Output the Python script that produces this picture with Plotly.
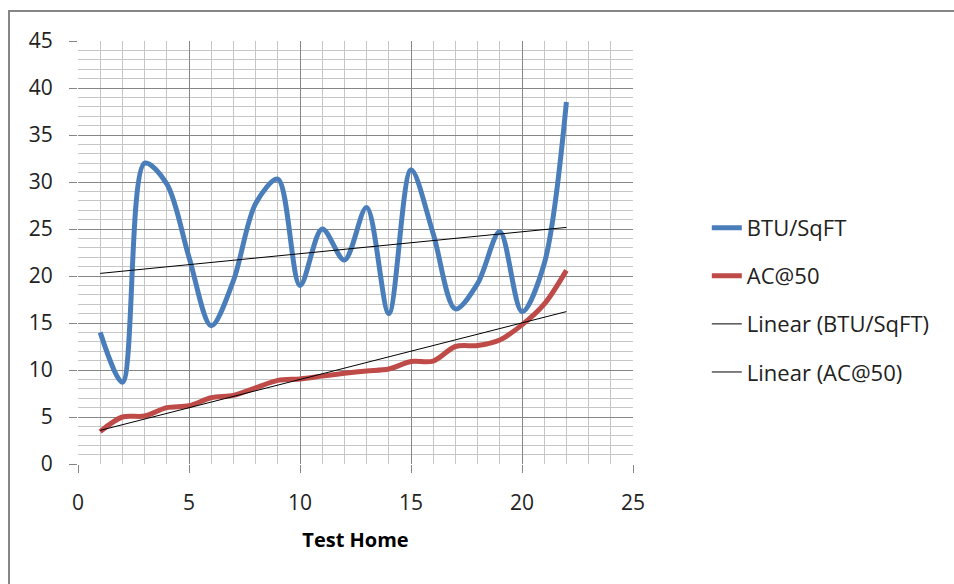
import numpy as np
import plotly.graph_objects as go

homes = list(range(1, 23))
btu = [14.0, 8.7, 32.0, 29.8, 22.0, 14.7, 19.5, 27.7, 30.3, 19.0, 25.0,
       21.7, 27.3, 16.0, 31.3, 24.5, 16.5, 19.2, 24.7, 16.2, 21.3, 38.5]
ac50 = [3.45, 5.0, 5.1, 6.0, 6.2, 7.05, 7.3, 8.1, 8.9, 9.05, 9.35,
        9.65, 9.9, 10.1, 10.9, 10.95, 12.5, 12.6, 13.2, 14.8, 17.0, 20.6]

x_ticks = [0, 5, 10, 15, 20, 25]
y_ticks = [0, 5, 10, 15, 20, 25, 30, 35, 40, 45]

FONT = "Open Sans"
BLUE = "#4a7ebb"
RED = "#be4b48"
MAJOR = "#868686"
MINOR = "#c6c6c6"

x = np.array(homes, dtype=float)
b_fit = np.polyfit(x, np.array(btu), 1)
a_fit = np.polyfit(x, np.array(ac50), 1)
trend_x = [homes[0], homes[-1]]

fig = go.Figure()
fig.add_trace(go.Scatter(x=homes, y=btu, mode="lines", name="BTU/SqFT",
                         line=dict(color=BLUE, width=5, shape="spline", smoothing=0.9),
                         legendgroup="a"))
fig.add_trace(go.Scatter(x=homes, y=ac50, mode="lines", name="AC@50",
                         line=dict(color=RED, width=5, shape="spline", smoothing=0.9),
                         legendgroup="b"))
fig.add_trace(go.Scatter(x=trend_x, y=list(np.polyval(b_fit, trend_x)), mode="lines",
                         name="Linear (BTU/SqFT)", line=dict(color="#000000", width=1),
                         legendgroup="c"))
fig.add_trace(go.Scatter(x=trend_x, y=list(np.polyval(a_fit, trend_x)), mode="lines",
                         name="Linear (AC@50)", line=dict(color="#000000", width=1),
                         legendgroup="d"))

axis_common = dict(
    showgrid=True, gridcolor=MAJOR, gridwidth=1,
    zeroline=False, showline=False,
    ticks="outside", ticklen=8, tickcolor=MAJOR, tickwidth=1,
    tickfont=dict(family=FONT, size=21, color="#222222"),
    ticklabelstandoff=12,
    fixedrange=True,
)

fig.update_xaxes(range=[0, 25], tickvals=x_ticks,
                 minor=dict(dtick=1, showgrid=True, gridcolor=MINOR, gridwidth=1, ticks=""),
                 title=dict(text="<b>Test Home</b>", font=dict(family=FONT, size=20, color="#000000"),
                            standoff=17),
                 **axis_common)
fig.update_yaxes(range=[0, 45], tickvals=y_ticks,
                 minor=dict(dtick=1, showgrid=True, gridcolor=MINOR, gridwidth=1, ticks=""),
                 **axis_common)

fig.update_layout(
    width=954, height=584,
    margin=dict(l=78, r=321, t=41, b=120, autoexpand=False),
    paper_bgcolor="white", plot_bgcolor="white",
    font=dict(family=FONT, color="#222222"),
    legend=dict(x=1.133, y=0.388, xanchor="left", yanchor="middle",
                font=dict(family=FONT, size=22, color="#222222"),
                tracegroupgap=16.5, traceorder="grouped",
                bgcolor="rgba(0,0,0,0)"),
    shapes=[dict(type="rect", xref="paper", yref="paper",
                 x0=(9 - 78) / 555, x1=(1000 - 78) / 555,
                 y0=(464 - 640) / 423, y1=(464 - 11) / 423,
                 line=dict(color=MAJOR, width=2), layer="below")],
)

fig.write_html("out.html")
